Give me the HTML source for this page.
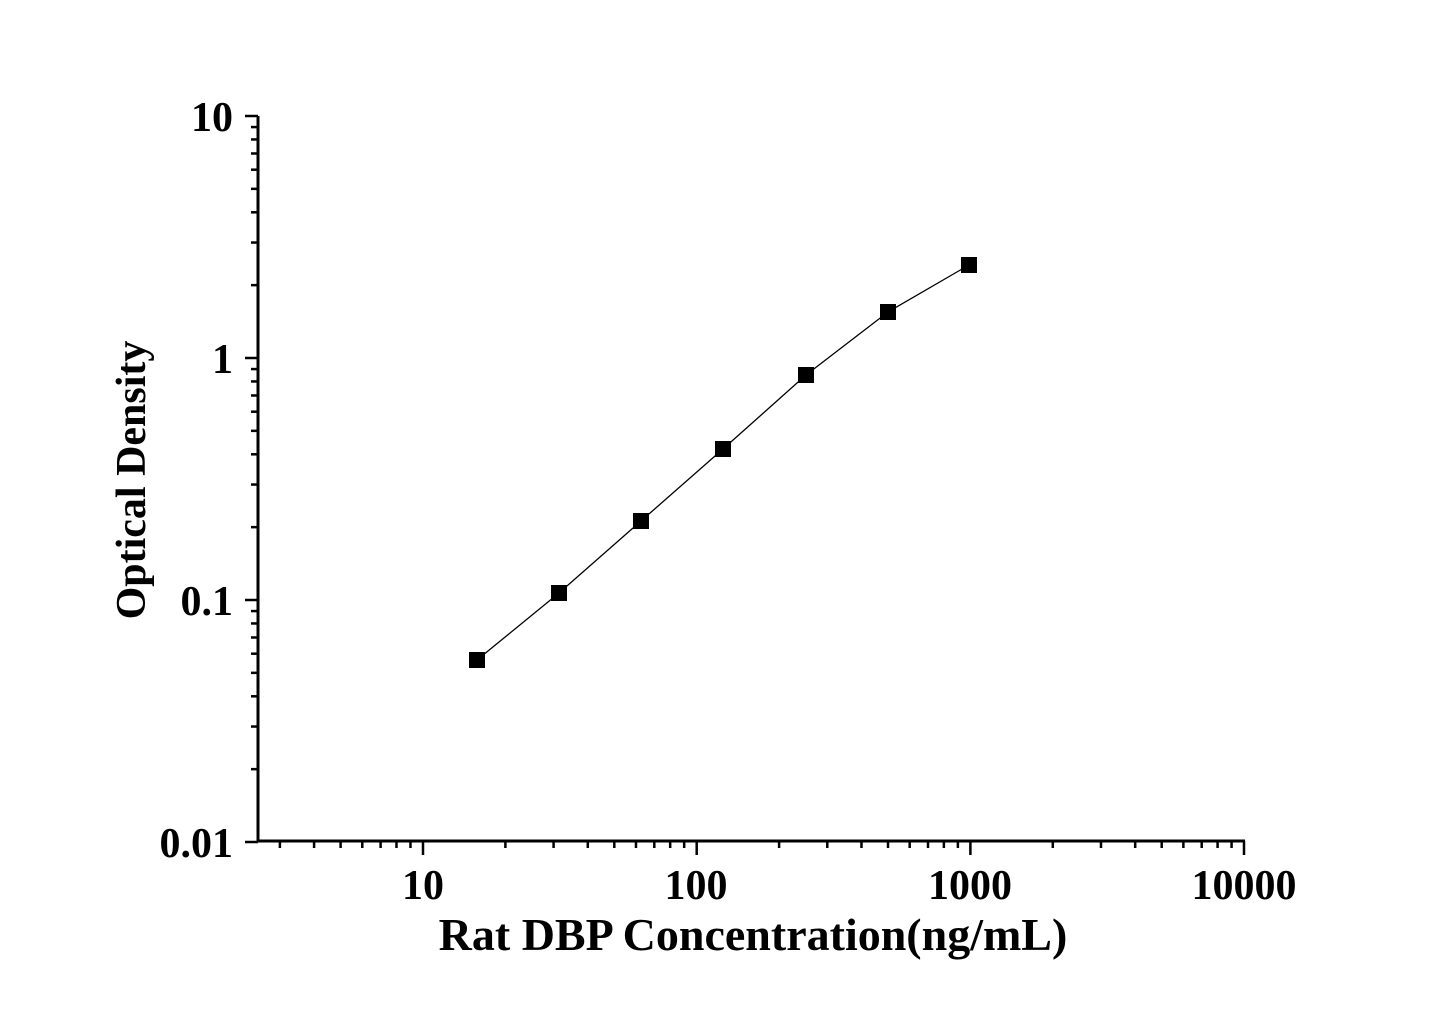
<!DOCTYPE html>
<html><head><meta charset="utf-8"><style>
html,body{margin:0;padding:0;background:#fff;}
svg{display:block;}
text{font-family:"Liberation Serif",serif;font-weight:bold;fill:#000;}
</style></head><body>
<svg id="s" width="1445" height="1009" viewBox="0 0 1445 1009" xmlns="http://www.w3.org/2000/svg">
<g id="ticks" stroke="#000" stroke-width="2.5" fill="none"></g>
<line x1="258" y1="116" x2="258" y2="842" stroke="#000" stroke-width="3"/>
<line x1="258" y1="841" x2="1245" y2="841" stroke="#000" stroke-width="3"/>
<polyline points="477,660 559,593 641,521 723,449 806,375 888,312 969,265" fill="none" stroke="#000" stroke-width="1.3"/>
<g fill="#000">
<rect x="469" y="652" width="16" height="16"/>
<rect x="551" y="585" width="16" height="16"/>
<rect x="633" y="513" width="16" height="16"/>
<rect x="715" y="441" width="16" height="16"/>
<rect x="798" y="367" width="16" height="16"/>
<rect x="880" y="304" width="16" height="16"/>
<rect x="961" y="257" width="16" height="16"/>
</g>
<g font-size="42" text-anchor="end">
<text x="233" y="131">10</text>
<text x="233" y="373">1</text>
<text x="233" y="615">0.1</text>
<text x="233" y="857">0.01</text>
</g>
<g font-size="42" text-anchor="middle">
<text x="423" y="899">10</text>
<text x="696" y="899">100</text>
<text x="970" y="899">1000</text>
<text x="1244" y="899">10000</text>
</g>
<text x="753" y="950" font-size="46" text-anchor="middle">Rat DBP Concentration(ng/mL)</text>
<text transform="translate(145,480) rotate(-90)" font-size="42" text-anchor="middle">Optical Density</text>
</svg>
<script>
var g=document.getElementById('ticks'),h='';
var x10=423,dx=273.7;
function X(v){return x10+(Math.log10(v)-1)*dx;}
for(var d=0;d<4;d++){for(var m=1;m<10;m++){var v=Math.pow(10,d)*m;if(v<3&&d==0)continue;var x=X(v);if(x>1246)continue;
h+='<line x1="'+x+'" y1="841" x2="'+x+'" y2="'+(m==1?855:848)+'"/>';}}
h+='<line x1="1244" y1="841" x2="1244" y2="855"/>';
var y1=358,dy=242;
function Y(v){return y1-Math.log10(v)*dy;}
for(var d=-2;d<1;d++){for(var m=1;m<10;m++){var v=Math.pow(10,d)*m;var y=Y(v);
h+='<line x1="258" y1="'+y+'" x2="'+(m==1?245:251)+'" y2="'+y+'"/>';}}
h+='<line x1="258" y1="116" x2="245" y2="116"/>';
g.innerHTML=h;
</script>
</body></html>
